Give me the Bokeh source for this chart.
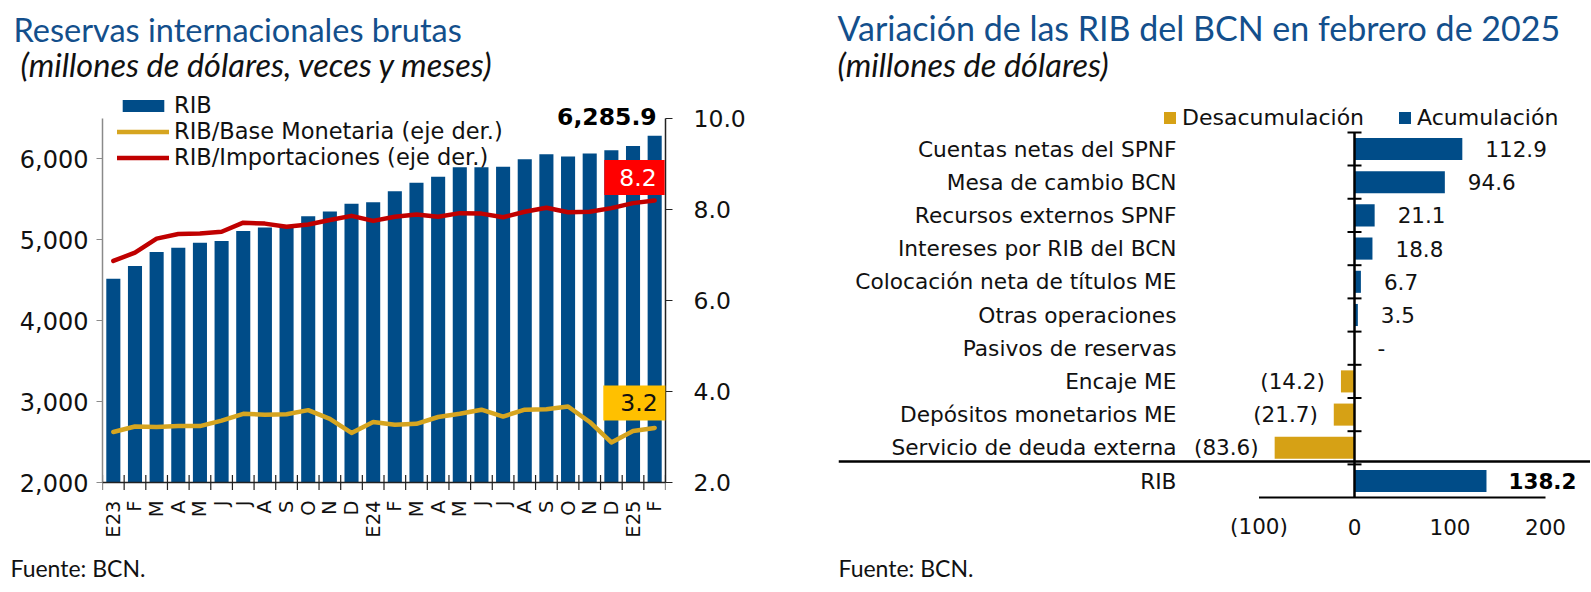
import math
from bokeh.plotting import figure
from bokeh.models import (Range1d, LinearAxis, SingleIntervalTicker,
                          NumeralTickFormatter, Label, Legend, LegendItem, Span)
from bokeh.layouts import row, column
from bokeh.embed import file_html
from bokeh.resources import INLINE
from bokeh.core.properties import value

# ---------------- data: left chart ----------------
months = ["E23", "F", "M", "A", "M", "J", "J", "A", "S", "O", "N", "D",
          "E24", "F", "M", "A", "M", "J", "J", "A", "S", "O", "N", "D",
          "E25", "F"]
rib = [4518, 4675, 4849, 4903, 4965, 4985, 5110, 5151, 5170, 5292, 5350, 5445,
       5466, 5602, 5706, 5780, 5896, 5896, 5905, 5996, 6058, 6029, 6066, 6108,
       6161, 6285.9]
rib_base = [3.11, 3.23, 3.22, 3.24, 3.24, 3.36, 3.51, 3.49, 3.50, 3.59, 3.40, 3.09,
            3.33, 3.27, 3.29, 3.44, 3.51, 3.60, 3.45, 3.60, 3.61, 3.67, 3.33, 2.88,
            3.13, 3.20]
rib_imp = [6.87, 7.05, 7.36, 7.46, 7.47, 7.51, 7.71, 7.69, 7.62, 7.67, 7.77, 7.86,
           7.75, 7.84, 7.89, 7.84, 7.92, 7.91, 7.83, 7.95, 8.04, 7.94, 7.95, 8.03,
           8.14, 8.20]
left_axis = (2000, 6500)
right_axis = (2, 10)

# ---------------- data: right chart ----------------
cats = ["Cuentas netas del SPNF", "Mesa de cambio BCN", "Recursos externos SPNF",
        "Intereses por RIB del BCN", "Colocación neta de títulos ME",
        "Otras operaciones", "Pasivos de reservas", "Encaje ME",
        "Depósitos monetarios ME", "Servicio de deuda externa", "RIB"]
vals = [112.9, 94.6, 21.1, 18.8, 6.7, 3.5, 0.0, -14.2, -21.7, -83.6, 138.2]
x_ticks = [-100, 0, 100, 200]

# ---------------- styles ----------------
BLUE = "#004C88"
GOLD_LINE = "#D6A520"
GOLD_BAR = "#D6A115"
RED = "#C00000"
TITLE_C = "#134F8C"
TXT = "#111111"
AXC = "#222222"
SANS = "DejaVu Sans"
TFONT = "Lato"

TOTAL_W = 1590
HEAD_H, MAIN_H = 88, 466
FOOT_H = 592 - HEAD_H - MAIN_H
W1 = 828
W2 = TOTAL_W - W1
FR_TOP, FR_BOT = HEAD_H, HEAD_H + MAIN_H      # page rows of both frames


def strip(width, height):
    f = figure(width=width, height=height, output_backend="svg",
               toolbar_location=None, x_range=Range1d(0, width),
               y_range=Range1d(height, 0), x_axis_location=None,
               y_axis_location=None, min_border=0)
    f.outline_line_color = None
    f.grid.visible = False
    return f


def strip_label(fig, x, y, text, size, color, style="normal"):
    fig.add_layout(Label(x=x, y=y, text=text, text_font=TFONT,
                         text_font_size=f"{size}px", text_color=color,
                         text_font_style=style, text_baseline="alphabetic"))


# =============== HEADER ===============
head = strip(TOTAL_W, HEAD_H)
strip_label(head, 13, 29.3, "Reservas internacionales brutas", 32.5, TITLE_C)
strip_label(head, 20, 63.6, "(millones de dólares, veces y meses)", 32.5, TXT, "italic")
strip_label(head, 837, 27.4, "Variación de las RIB del BCN en febrero de 2025", 34, TITLE_C)
strip_label(head, 837, 63.6, "(millones de dólares)", 32.5, TXT, "italic")

# =============== FOOTER ===============
foot = strip(TOTAL_W, FOOT_H)
for fx in (10, 838):
    strip_label(foot, fx, 13.6, "Fuente: BCN.", 23, TXT)

# =============== LEFT FIGURE ===============
xi = list(range(len(months)))
lo, hi = left_axis
rlo, rhi = right_axis
AX_TOP, AX_BOT = 118, 482                      # page rows of the axis ends
ppu = (AX_BOT - AX_TOP) / (hi - lo)
rppu = (AX_BOT - AX_TOP) / (rhi - rlo)
p1 = figure(width=W1, height=MAIN_H, output_backend="svg", toolbar_location=None,
            x_range=Range1d(-0.5, len(months) - 0.5),
            y_range=Range1d(lo - (FR_BOT - AX_BOT) / ppu, hi + (AX_TOP - FR_TOP) / ppu),
            x_axis_location=None,
            min_border_left=102, min_border_right=W1 - 102 - 563,
            min_border_top=0, min_border_bottom=0)
p1.outline_line_color = None
p1.grid.visible = False
p1.extra_y_ranges = {"right": Range1d(rlo - (FR_BOT - AX_BOT) / rppu,
                                      rhi + (AX_TOP - FR_TOP) / rppu)}

bars = p1.vbar(x=xi, top=rib, bottom=lo, width=0.65, fill_color=BLUE,
               line_color=None)
l_base = p1.line(xi, rib_base, y_range_name="right", line_color=GOLD_LINE,
                 line_width=4.5, line_join="round", line_cap="round")
l_imp = p1.line(xi, rib_imp, y_range_name="right", line_color=RED,
                line_width=4.5, line_join="round", line_cap="round")

# category (month) axis along the 2,000 line
p1.add_layout(Span(location=lo, dimension="width", line_color=AXC, line_width=1.5))
p1.scatter(x=[i - 0.5 for i in range(len(months) + 1)], y=[lo] * (len(months) + 1),
           marker="dash", angle=math.pi / 2, size=15, line_color=AXC,
           line_width=1.2)
p1.text(x=xi, y=[lo - 18 / ppu] * len(months), text=months, angle=math.pi / 2,
        text_align="right", text_baseline="middle", text_font=value(SANS),
        text_font_size=value("19.5px"), text_color=TXT)

ya = p1.yaxis[0]
ya.ticker = SingleIntervalTicker(interval=1000)
ya.formatter = NumeralTickFormatter(format="0,0")
ya.bounds = left_axis
ya.axis_line_color = "#8A8A8A"
ya.axis_line_width = 1.5
ya.major_tick_line_color = "#8A8A8A"
ya.major_tick_out = 6
ya.major_tick_in = 0
ya.minor_tick_line_color = None
ya.major_label_standoff = 8
ya.major_label_text_font = SANS
ya.major_label_text_font_size = "24px"
ya.major_label_text_color = TXT

ra = LinearAxis(y_range_name="right", ticker=SingleIntervalTicker(interval=2),
                formatter=NumeralTickFormatter(format="0.0"))
ra.bounds = right_axis
ra.axis_line_color = AXC
ra.axis_line_width = 1.5
ra.major_tick_line_color = AXC
ra.major_tick_out = 7
ra.major_tick_in = 0
ra.minor_tick_line_color = None
ra.major_label_standoff = 21
ra.major_label_text_font = SANS
ra.major_label_text_font_size = "23.5px"
ra.major_label_text_color = TXT
p1.add_layout(ra, "right")

# one legend row per series, so the row spacing can follow the reference
legend_rows = [("RIB", bars, 104), ("RIB/Base Monetaria (eje der.)", l_base, 130),
               ("RIB/Importaciones (eje der.)", l_imp, 156)]
for lab, rend, center in legend_rows:
    p1.add_layout(Legend(items=[LegendItem(label=lab, renderers=[rend])],
                         location=(15, FR_BOT - center - 14), orientation="vertical",
                         glyph_width=52, glyph_height=15, label_standoff=5,
                         spacing=0, padding=0, margin=0, border_line_alpha=0,
                         background_fill_alpha=0, label_text_font=SANS,
                         label_text_font_size="22.5px", label_text_color=TXT))

last = len(months) - 1
p1.add_layout(Label(x=last, y=rib[-1], text=f"{rib[-1]:,.1f}", text_align="right",
                    text_baseline="middle", x_offset=2, y_offset=19,
                    text_font=SANS, text_font_size="23.5px", text_font_style="bold",
                    text_color="#000000"))
p1.add_layout(Label(x=last, y=rib_imp[-1], y_range_name="right",
                    text=f"{rib_imp[-1]:.1f}", text_align="right",
                    text_baseline="middle", x_offset=10, y_offset=23,
                    text_font=SANS, text_font_size="23.5px", text_color="white",
                    background_fill_color="#FF0000",
                    padding=dict(left=15, right=8, top=9, bottom=9)))
p1.add_layout(Label(x=last, y=rib_base[-1], y_range_name="right",
                    text=f"{rib_base[-1]:.1f}", text_align="right",
                    text_baseline="middle", x_offset=11, y_offset=25,
                    text_font=SANS, text_font_size="23.5px", text_color="#111111",
                    background_fill_color="#FFC000",
                    padding=dict(left=17, right=8, top=9, bottom=9)))

# =============== RIGHT FIGURE ===============
n = len(cats)
yi = list(range(n))
px_per_unit = 0.955
zero_px = 516                      # zero line from the frame's left edge
frame_w = W2 - 10
x0 = -zero_px / px_per_unit
pitch = 33.2                       # px per category row
CAT_TOP = 131.9                    # page row of the first category's top edge
y_top = -0.5 - (CAT_TOP - FR_TOP) / pitch
p2 = figure(width=W2, height=MAIN_H, output_backend="svg", toolbar_location=None,
            x_range=Range1d(x0, x0 + frame_w / px_per_unit),
            y_range=Range1d(y_top + MAIN_H / pitch, y_top),
            x_axis_location=None, y_axis_location=None,
            min_border_left=10, min_border_right=0, min_border_top=0,
            min_border_bottom=0)
p2.outline_line_color = None
p2.grid.visible = False

pos = [i for i, v in enumerate(vals) if v > 0]
neg = [i for i, v in enumerate(vals) if v < 0]
r_neg = p2.hbar(y=[yi[i] for i in neg], right=[vals[i] for i in neg], left=0,
                height=0.665, fill_color=GOLD_BAR, line_color=None)
r_pos = p2.hbar(y=[yi[i] for i in pos], right=[vals[i] for i in pos], left=0,
                height=0.665, fill_color=BLUE, line_color=None)


def fmt(v, nd=1):
    if v > 0:
        return f"{v:.{nd}f}"
    if v < 0:
        return f"({-v:.{nd}f})"
    return "-"


FS2 = "21.5px"
nonneg = [i for i, v in enumerate(vals) if v >= 0 and i != n - 1]
p2.text(x=[vals[i] for i in nonneg], y=[yi[i] for i in nonneg],
        text=[fmt(vals[i]) for i in nonneg], x_offset=23, text_align="left",
        text_baseline="middle", text_font=value(SANS),
        text_font_size=value(FS2), text_color=TXT)
p2.text(x=[vals[i] for i in neg], y=[yi[i] for i in neg],
        text=[fmt(vals[i]) for i in neg], x_offset=-16, text_align="right",
        text_baseline="middle", text_font=value(SANS),
        text_font_size=value(FS2), text_color=TXT)
p2.text(x=[vals[-1]], y=[yi[-1]], text=[fmt(vals[-1])], x_offset=22,
        text_align="left", text_baseline="middle", text_font=value(SANS),
        text_font_size=value("21.5px"), text_font_style="bold", text_color="#000000")

label_x = -178.0 / px_per_unit
p2.text(x=[label_x] * n, y=yi, text=cats, text_align="right",
        text_baseline="middle", text_font=value(SANS),
        text_font_size=value("21.7px"), text_color=TXT)

# zero axis with ticks at category boundaries
p2.segment(x0=[0], y0=[-0.5], x1=[0], y1=[n - 0.5], line_color="#000000",
           line_width=2.5)
p2.scatter(x=[0] * n, y=[i - 0.5 for i in yi], marker="dash", size=14,
           line_color="#000000", line_width=2)
# separator above the total
p2.add_layout(Span(location=n - 1.5 - 0.09, dimension="width",
                   line_color="#000000", line_width=2.5))
# value axis at the bottom
p2.segment(x0=[x_ticks[0]], y0=[n - 0.5], x1=[x_ticks[-1]], y1=[n - 0.5],
           line_color="#000000", line_width=2)
p2.text(x=x_ticks, y=[n - 0.5 + 29 / pitch] * len(x_ticks),
        text=[fmt(t, 0) if t != 0 else "0" for t in x_ticks],
        text_align="center", text_baseline="middle", text_font=value(SANS),
        text_font_size=value(FS2), text_color=TXT)

leg2 = Legend(items=[LegendItem(label="Desacumulación", renderers=[r_neg]),
                     LegendItem(label="Acumulación", renderers=[r_pos])],
              location=(324, FR_BOT - 129.5), orientation="horizontal",
              glyph_width=15, glyph_height=15, label_standoff=5, spacing=33,
              padding=0, margin=0, border_line_alpha=0, background_fill_alpha=0,
              label_text_font=SANS, label_text_font_size="22px",
              label_text_color=TXT)
p2.add_layout(leg2)

layout = column(head, row(p1, p2), foot)
open("out.html", "w").write(file_html(layout, INLINE))
